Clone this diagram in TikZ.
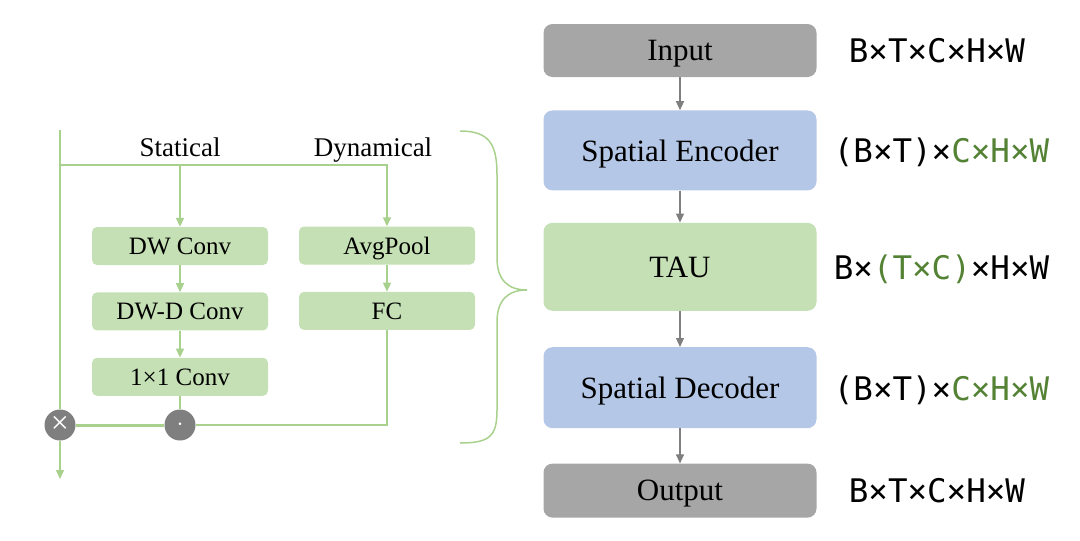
\documentclass[tikz,border=0pt]{standalone}
\usepackage{fontspec}
\setmainfont{Liberation Serif}
\newfontfamily\dimsfont{DejaVu Sans Mono}
\usetikzlibrary{arrows.meta,positioning}
\definecolor{leaf}{HTML}{A9D18E}
\definecolor{leaffill}{HTML}{C5E0B4}
\definecolor{sky}{HTML}{B4C7E7}
\definecolor{stone}{HTML}{A6A6A6}
\definecolor{slate}{HTML}{7F7F7F}
\definecolor{moss}{HTML}{548235}

\begin{document}
\begin{tikzpicture}[x=1pt,y=-1pt,>={Triangle[length=9pt,width=8pt]},
  stage/.style={rounded corners=9pt,minimum width=273pt,inner sep=0pt,
    text depth=0pt,font=\fontsize{31}{36}\selectfont},
  op/.style={fill=leaffill,rounded corners=5pt,minimum width=176pt,
    minimum height=38pt,inner sep=0pt,text depth=0pt,
    font=\fontsize{25}{30}\selectfont},
  dims/.style={font=\dimsfont\fontsize{32.5}{36}\selectfont,anchor=west,
    inner sep=0pt,text depth=0pt},
  flow/.style={->,slate,line width=1.1pt},
  wire/.style={leaf,line width=1.5pt},
  joint/.style={circle,fill=slate,minimum size=31pt,inner sep=0pt,text=white}]
  \useasboundingbox (0,0) rectangle (1080,541);

  % main pipeline
  \node[stage,fill=stone,minimum height=53pt] (input) at (680,50.5) {Input};
  \node[stage,fill=sky,minimum height=80pt,below=33pt of input] (enc)
    {Spatial Encoder};
  \node[stage,fill=leaffill,minimum height=88pt,below=32pt of enc] (tau) {TAU};
  \node[stage,fill=sky,minimum height=81pt,below=36pt of tau] (dec)
    {Spatial Decoder};
  \node[stage,fill=stone,minimum height=54pt,below=35pt of dec] (output)
    {Output};
  \foreach \a/\b in {input/enc,enc/tau,tau/dec,dec/output}
    \draw[flow] (\a) -- (\b);

  % tensor shapes
  \node[dims,right=32pt of input] (sin) {B×T×C×H×W};
  \node[dims,right=17pt of enc] (senc) {(B×T)×\textcolor{moss}{C×H×W}};
  \node[dims,right=17pt of tau] (stau) {B×\textcolor{moss}{(T×C)}×H×W};
  \node[dims,right=17pt of dec] (sdec) {(B×T)×\textcolor{moss}{C×H×W}};
  \node[dims,right=32pt of output] (sout) {B×T×C×H×W};

  % TAU module
  \node[font=\fontsize{27}{32}\selectfont,anchor=base] (stat) at (180,156)
    {Statical};
  \node[font=\fontsize{27}{32}\selectfont,anchor=base] (dyn) at (373,156)
    {Dynamical};
  \node[op] (dw) at (180,246) {DW Conv};
  \node[op,below=27pt of dw] (dwd) {DW-D Conv};
  \node[op,below=27pt of dwd] (pw) {1×1 Conv};
  \node[op] (pool) at (387,245.5) {AvgPool};
  \node[op,below=27pt of pool] (fc) {FC};
  \node[joint,font=\fontsize{32}{32}\selectfont] (mul) at (60,425) {×};
  \node[joint,font=\fontsize{26}{26}\selectfont] (dot) at (180,425) {$\cdot$};

  \coordinate (top) at (60,130);
  \coordinate (split) at (60,165);
  \coordinate (exit) at (60,479);
  \draw[wire] (top) -- (mul);
  \draw[wire,->] (mul) -- (exit);
  \draw[wire,->] (split) -| (pool.north);
  \draw[wire,->] (split -| dw.north) -- (dw.north);
  \draw[wire,->] (dw) -- (dwd);
  \draw[wire,->] (dwd) -- (pw);
  \draw[wire,->] (pool) -- (fc);
  \draw[wire] (pw) -- (dot);
  \draw[wire] (fc) |- (dot);
  \draw[wire,line width=3pt] (dot) -- (mul);

  % brace
  \draw[wire] (460,131) .. controls (490,131) and (497,145) .. (497,175)
    -- (497,258) .. controls (497,280) and (508,290) .. (527,290)
    .. controls (508,290) and (497,300) .. (497,322)
    -- (497,410) .. controls (497,436) and (490,443) .. (460,443);
\end{tikzpicture}
\end{document}
